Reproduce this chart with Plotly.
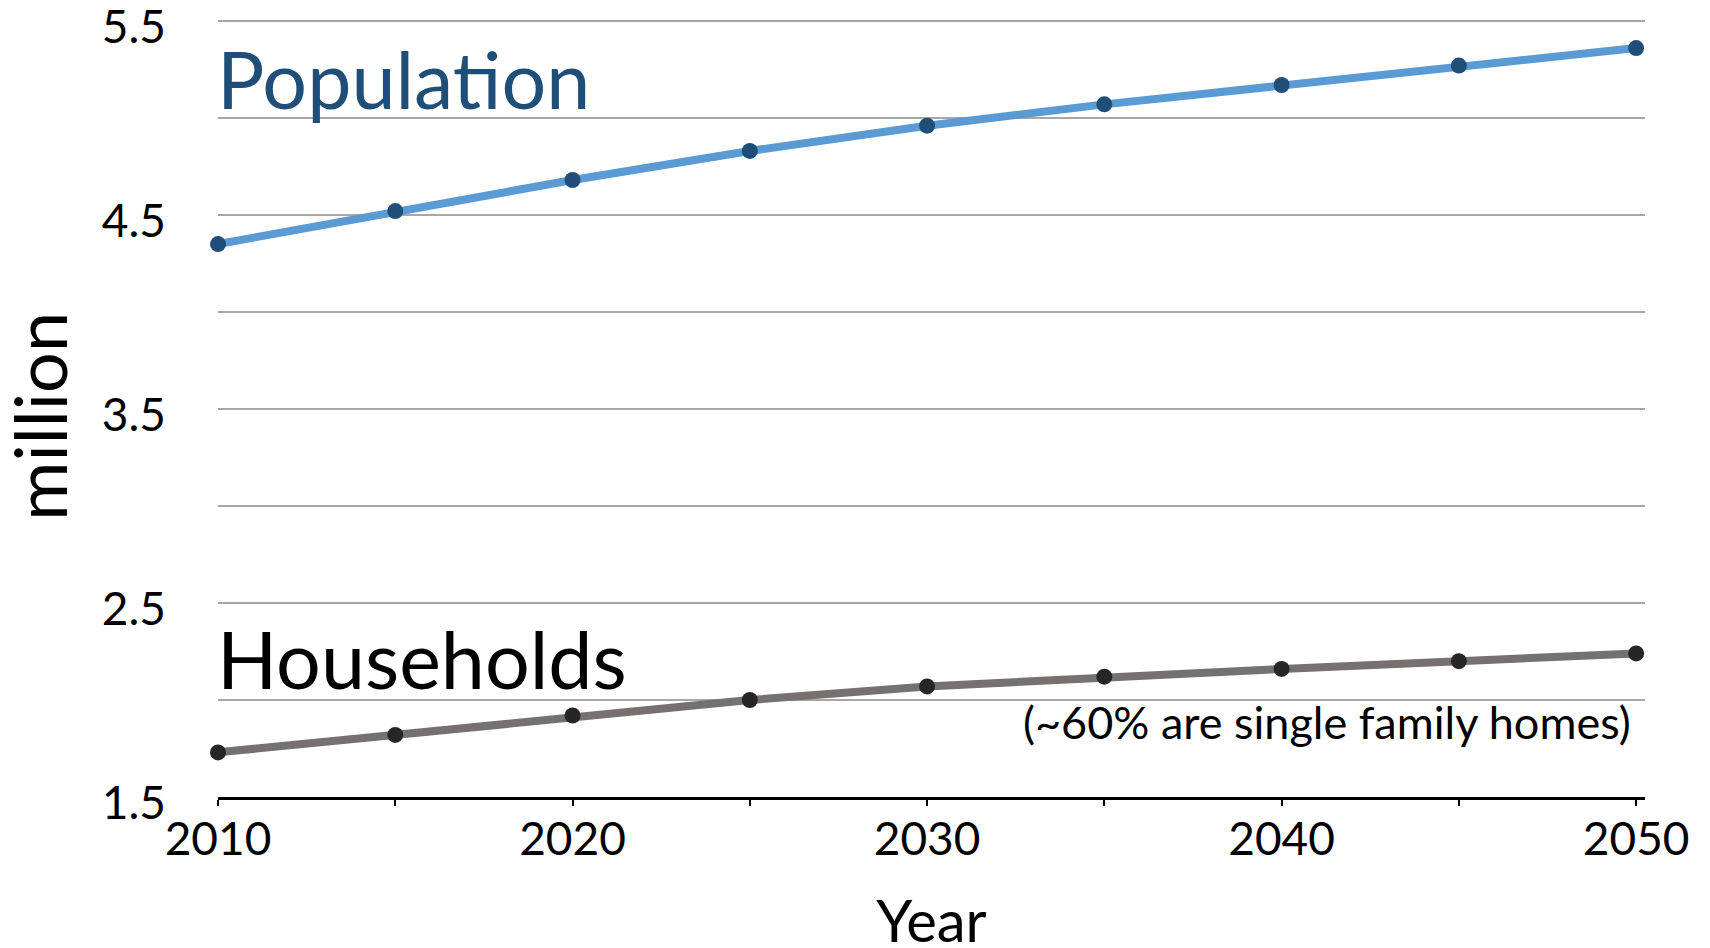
import plotly.graph_objects as go

years = [2010, 2015, 2020, 2025, 2030, 2035, 2040, 2045, 2050]
population = [4.35, 4.52, 4.68, 4.83, 4.96, 5.07, 5.17, 5.27, 5.36]
households = [1.73, 1.82, 1.92, 2.00, 2.07, 2.12, 2.16, 2.20, 2.24]

x_tickvals = [2010, 2015, 2020, 2025, 2030, 2035, 2040, 2045, 2050]
x_ticktext = ["2010", "", "2020", "", "2030", "", "2040", "", "2050"]
y_tickvals = [1.5, 2.0, 2.5, 3.0, 3.5, 4.0, 4.5, 5.0, 5.5]
y_ticktext = ["1.5", "", "2.5", "", "3.5", "", "4.5", "", "5.5"]

FONT = "Lato"

fig = go.Figure()
fig.add_trace(go.Scatter(
    x=years, y=population, mode="lines+markers", name="Population",
    line=dict(color="#5B9BD5", width=8),
    marker=dict(color="#1F4E79", size=16),
    cliponaxis=False, showlegend=False,
))
fig.add_trace(go.Scatter(
    x=years, y=households, mode="lines+markers", name="Households",
    line=dict(color="#757171", width=8),
    marker=dict(color="#262626", size=16),
    cliponaxis=False, showlegend=False,
))

fig.add_annotation(text="Population", xref="paper", yref="paper",
                   x=0.0, y=0.923, xanchor="left", yanchor="middle", xshift=-3,
                   showarrow=False, font=dict(family=FONT, size=79, color="#1F4E79"))
fig.add_annotation(text="Households", xref="paper", yref="paper",
                   x=0.0, y=0.178, xanchor="left", yanchor="middle", xshift=-3,
                   showarrow=False, font=dict(family=FONT, size=79, color="#000000"))
fig.add_annotation(text="(~60% are single family homes)", xref="paper", yref="paper",
                   x=0.99, y=0.097, xanchor="right", yanchor="middle", xshift=2,
                   showarrow=False, font=dict(family=FONT, size=45, color="#000000"))
# y-axis title
fig.add_annotation(text="million", xref="paper", yref="paper",
                   x=-0.1255, y=0.49, xanchor="center", yanchor="middle", textangle=-90,
                   showarrow=False, font=dict(family=FONT, size=72, color="#000000"))

# the page body has an 8px margin, so the figure is laid out 8px up/left
fig.update_layout(
    width=1710, height=948,
    margin=dict(l=210, r=73, t=11, b=159),
    paper_bgcolor="white", plot_bgcolor="white",
    font=dict(family=FONT, color="black"),
)
fig.update_xaxes(
    range=[2010, 2050.25],
    tickvals=x_tickvals, ticktext=x_ticktext,
    showgrid=False, zeroline=False, automargin=False,
    showline=True, linecolor="black", linewidth=3,
    ticks="outside", ticklen=6, tickwidth=2, tickcolor="black",
    ticklabelstandoff=-6,
    tickfont=dict(family=FONT, size=46, color="black"),
    title=dict(text="Year", font=dict(family=FONT, size=58, color="black"), standoff=38),
)
fig.update_yaxes(
    range=[1.5, 5.51],
    tickvals=y_tickvals, ticktext=y_ticktext,
    showgrid=True, gridcolor="#A9A6A6", gridwidth=2,
    zeroline=False, showline=False, ticks="", automargin=False,
    ticklabelstandoff=51, ticklabelshift=6, ticklabeloverflow="allow",
    tickfont=dict(family=FONT, size=46, color="black"),
)

fig.write_html("out.html")
